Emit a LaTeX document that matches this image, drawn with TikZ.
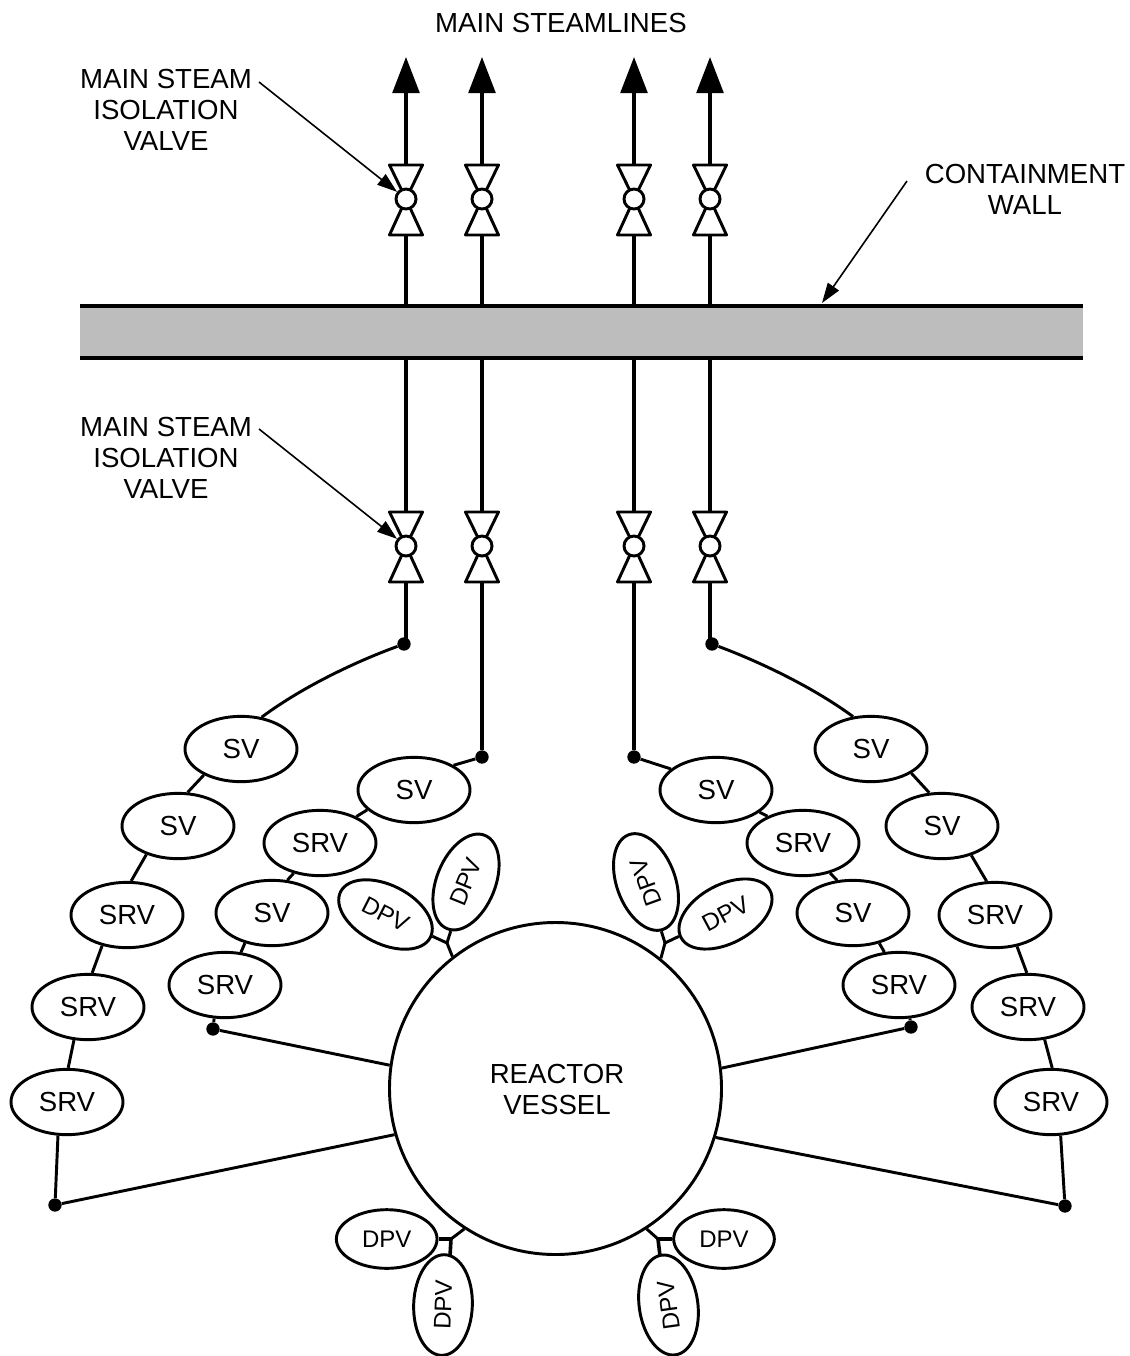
\documentclass[tikz,border=0pt]{standalone}
\usepackage{fontspec}
\setmainfont{Liberation Sans}
\usetikzlibrary{arrows.meta,shapes.geometric}
\tikzset{
  x=0.75pt,y=-0.75pt,
  pipe/.style={line width=2.2pt,black},
  riser/.style={line width=2.7pt,black},
  wall line/.style={line width=2.6pt,black},
  leader/.style={line width=1.2pt,-{Triangle[length=15pt,width=10pt]}},
  vbody/.style={draw,line width=2.2pt,fill=white,inner sep=0pt,shape=circle,minimum size=15pt},
  vtri/.style={draw,line width=2.2pt,fill=white,line join=round},
  valve box/.style={ellipse,draw,line width=2.2pt,fill=white,inner sep=0pt,minimum width=84pt,minimum height=49pt,font=\fontsize{20.7}{24}\selectfont},
  dpv box/.style={ellipse,draw,line width=2.2pt,fill=white,inner sep=0pt,minimum width=75.5pt,minimum height=44pt,font=\fontsize{18}{22}\selectfont},
  dotn/.style={circle,fill=black,inner sep=0pt,minimum size=10pt},
  label text/.style={align=center,font=\fontsize{20.7}{23.25}\selectfont,inner sep=0pt},
  flow/.style={line width=2.7pt,-{Triangle[length=27pt,width=20pt]}},
}
\newcommand{\valvesym}[3]{%
  \draw[vtri] (#2-16.5,#3-34) -- (#2+16.5,#3-34) -- (#2,#3) -- cycle;
  \draw[vtri] (#2-16.5,#3+36) -- (#2+16.5,#3+36) -- (#2,#3) -- cycle;
  \node[vbody] (#1) at (#2,#3) {};
  \coordinate (#1t) at (#2,#3-34);
  \coordinate (#1b) at (#2,#3+36);
}
\begin{document}
\begin{tikzpicture}
\useasboundingbox (0,0) rectangle (1129,1356);
% wall
\fill[black!26] (80,306) rectangle (1083,358);
\coordinate (wl1) at (80,306); \coordinate (wr1) at (1083,306);
\coordinate (wl2) at (80,358); \coordinate (wr2) at (1083,358);
\draw[wall line] (wl1) -- (wr1);
\draw[wall line] (wl2) -- (wr2);
% valves
\valvesym{ua}{406}{199}\valvesym{ub}{482}{199}\valvesym{uc}{634}{199}\valvesym{ud}{710}{199}
\valvesym{la}{406}{546}\valvesym{lb}{482}{546}\valvesym{lc}{634}{546}\valvesym{ld}{710}{546}
% arrows out
\foreach \n/\x in {ua/406,ub/482,uc/634,ud/710}{
  \coordinate (\n top) at (\x,57);
  \coordinate (\n wall) at (\x,306);
  \draw[flow] (\n t) -- (\n top);
  \draw[riser] (\n b) -- (\n wall);
}
\foreach \n/\x in {la/406,lb/482,lc/634,ld/710}{
  \coordinate (\n wall) at (\x,358);
  \draw[riser] (\n wall) -- (\n t);
}
% dots
\node[dotn] (da) at (404,644) {};
\node[dotn] (db) at (482,757) {};
\node[dotn] (dc) at (634,757) {};
\node[dotn] (dd) at (712,644) {};
\node[dotn] (de) at (213,1029) {};
\node[dotn] (df) at (911,1027) {};
\node[dotn] (dg) at (55,1205) {};
\node[dotn] (dh) at (1065,1206) {};
\coordinate (dau) at (406,644);
\coordinate (ddu) at (710,644);
\draw[riser] (lab) -- (dau);
\draw[riser] (lbb) -- (db);
\draw[riser] (lcb) -- (dc);
\draw[riser] (ldb) -- (ddu);
% vessel
\node[circle,draw,line width=2.2pt,fill=white,minimum size=249pt,inner sep=0pt] (rv) at (555.5,1088.5) {};
\node[label text] (rvt) at (557,1089) {REACTOR\\VESSEL};
% left outer
\node[valve box] (a1) at (241,749) {SV};
\node[valve box] (a2) at (178,826) {SV};
\node[valve box] (a3) at (127,915) {SRV};
\node[valve box] (a4) at (88,1007) {SRV};
\node[valve box] (a5) at (67,1102) {SRV};
\draw[pipe] (da) .. controls (360,660) and (305,685) .. (a1.57);
\draw[pipe] (a1.215) -- (a2.74);
\draw[pipe] (a2.222) -- (a3.83);
\draw[pipe] (a3.231) -- (a4.83);
\draw[pipe] (a4.247) -- (a5.88);
\draw[pipe] (a5.255) -- (dg);
% right outer
\node[valve box] (b1) at (871,749) {SV};
\node[valve box] (b2) at (942,826) {SV};
\node[valve box] (b3) at (995,915) {SRV};
\node[valve box] (b4) at (1028,1007) {SRV};
\node[valve box] (b5) at (1051,1102) {SRV};
\draw[pipe] (dd) .. controls (755,660) and (810,685) .. (b1.119);
\draw[pipe] (b1.329) -- (b2.111);
\draw[pipe] (b2.315) -- (b3.104);
\draw[pipe] (b3.305) -- (b4.92);
\draw[pipe] (b4.297) -- (b5.88);
\draw[pipe] (b5.286) -- (dh);
% left inner
\node[valve box] (c1) at (414,790) {SV};
\node[valve box] (c2) at (320,843) {SRV};
\node[valve box] (c3) at (272,913) {SV};
\node[valve box] (c4) at (225,985) {SRV};
\draw[pipe] (db) -- (c1.32);
\draw[pipe] (c1.203) -- (c2.36);
\draw[pipe] (c2.229) -- (c3.65);
\draw[pipe] (c3.228) -- (c4.64);
\draw[pipe] (c4.252) -- (de);
% right inner
\node[valve box] (e1) at (716,790) {SV};
\node[valve box] (e2) at (803,843) {SRV};
\node[valve box] (e3) at (853,913) {SV};
\node[valve box] (e4) at (899,985) {SRV};
\draw[pipe] (dc) -- (e1.155);
\draw[pipe] (e1.333) -- (e2.143);
\draw[pipe] (e2.312) -- (e3.116);
\draw[pipe] (e3.311) -- (e4.114);
\draw[pipe] (e4.288) -- (df);
% to vessel
\draw[pipe] (de) -- (rv.172.3);
\draw[pipe] (df) -- (rv.7.7);
\draw[pipe] (dg) -- (rv.196.5);
\draw[pipe] (dh) -- (rv.343.6);
% DPVs
\node[dpv box,rotate=-27] (p1) at (385.5,914.5) {DPV};
\node[dpv box,rotate=68] (p2) at (466,882) {DPV};
\node[dpv box,rotate=28] (p3) at (725.5,914) {DPV};
\node[dpv box,rotate=110] (p4) at (646,882) {DPV};
\node[dpv box] (p5) at (386.7,1239) {DPV};
\node[dpv box,rotate=88] (p6) at (443,1305) {DPV};
\node[dpv box] (p7) at (724,1239) {DPV};
\node[dpv box,rotate=98] (p8) at (668.5,1305) {DPV};
\coordinate (j1) at (447,943); \coordinate (j2) at (665,943);
\coordinate (j3) at (451,1239); \coordinate (j4) at (658,1239);
\coordinate (q6) at (450,1256); \coordinate (q8) at (660,1256);
\draw[pipe] (j1) -- (rv.128.4); \draw[pipe] (j1) -- (p1); \draw[pipe] (j1) -- (p2);
\draw[pipe] (j2) -- (rv.51.3); \draw[pipe] (j2) -- (p3); \draw[pipe] (j2) -- (p4);
\draw[pipe] (j3) -- (rv.237); \draw[riser] (j3) -- (p5); \draw[riser] (j3) -- (q6);
\draw[pipe] (j4) -- (rv.303); \draw[riser] (j4) -- (p7); \draw[riser] (j4) -- (q8);
% labels
\node[label text] (t0) at (561,23) {MAIN STEAMLINES};
\node[label text] (t1) at (166,110) {MAIN STEAM\\ISOLATION\\VALVE};
\node[label text] (t2) at (166,458) {MAIN STEAM\\ISOLATION\\VALVE};
\node[label text] (t3) at (1025,189) {CONTAINMENT\\WALL};
\coordinate (s1) at (259,82); \coordinate (s2) at (259,429); \coordinate (s3) at (907,181); \coordinate (e3e) at (822,303);
\draw[leader] (s1) -- (ua);
\draw[leader] (s2) -- (la);
\draw[leader] (s3) -- (e3e);
\end{tikzpicture}
\end{document}
